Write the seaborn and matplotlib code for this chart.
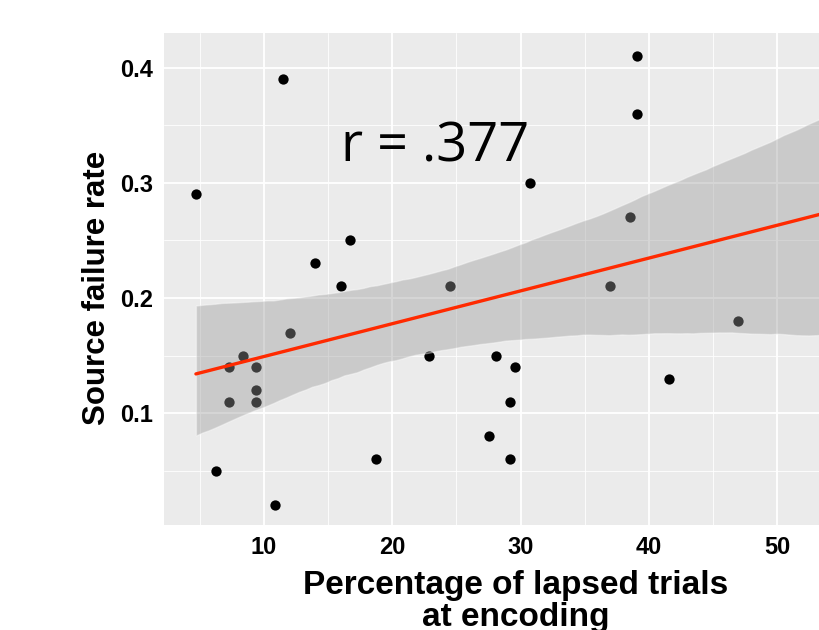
import matplotlib
matplotlib.use("Agg")
import matplotlib.pyplot as plt
from matplotlib.ticker import MultipleLocator
import pandas as pd
import seaborn as sns

# percentage of lapsed trials at encoding vs source failure rate
# (last point sits past the cropped right edge; it is what pulls the fit/band out there)
x_lapsed = [4.7, 11.5, 6.3, 10.9, 7.3, 8.4, 7.3, 9.4, 9.4, 9.4, 12.0, 14.0, 16.0, 16.7,
            18.7, 22.9, 24.5, 30.7, 28.1, 29.6, 29.2, 27.5, 29.2, 37.0, 38.5, 39.1,
            39.1, 41.6, 46.9, 54.5]
y_fail = [0.29, 0.39, 0.05, 0.02, 0.14, 0.15, 0.11, 0.14, 0.12, 0.11, 0.17, 0.23, 0.21,
          0.25, 0.06, 0.15, 0.21, 0.30, 0.15, 0.14, 0.11, 0.08, 0.06, 0.21, 0.27, 0.41,
          0.36, 0.13, 0.18, 0.36]
x_ticks = [10, 20, 30, 40, 50]
y_ticks = [0.1, 0.2, 0.3, 0.4]
y_tick_labels = ['0.1', '0.2', '0.3', '0.4']
r_label = 'r = .377'

df = pd.DataFrame({'lapsed': x_lapsed, 'fail': y_fail})

sns.set_style('darkgrid', {'axes.facecolor': '#EBEBEB', 'grid.color': 'white'})
plt.rcParams['font.family'] = ['Liberation Sans', 'DejaVu Sans']
plt.rcParams['text.color'] = 'black'

fig, ax = plt.subplots(figsize=(8.19, 6.3), dpi=100)
# panel runs past the right edge of the (cropped) figure, like the original slide
fig.subplots_adjust(left=0.2002, right=1.0586, top=0.9476, bottom=0.1667)

sns.regplot(data=df, x='lapsed', y='fail', ax=ax, truncate=True, seed=0, n_boot=2000,
            scatter_kws={'color': 'black', 's': 55, 'alpha': 1, 'linewidths': 0, 'zorder': 2},
            line_kws={'color': '#999999', 'lw': 2.4, 'zorder': 4})
band = ax.collections[-1]
band.set_facecolor('#999999')
band.set_alpha(0.4)
band.set_zorder(3)
ax.lines[-1].set_color('#FF2A00')

ax.set_xlim(2.21, 56.99)
ax.set_ylim(0.003, 0.43)
ax.set_xticks(x_ticks)
ax.set_yticks(y_ticks)
ax.set_yticklabels(y_tick_labels)
ax.xaxis.set_minor_locator(MultipleLocator(5))
ax.yaxis.set_minor_locator(MultipleLocator(0.05))
ax.grid(which='major', color='white', lw=1.3)
ax.grid(which='minor', color='white', lw=0.6)
ax.set_axisbelow(True)
for s in ax.spines.values():
    s.set_visible(False)
ax.tick_params(axis='both', which='major', length=5, width=1, color='#333333',
               labelsize=17, labelcolor='black', pad=3)
ax.tick_params(which='minor', length=0)
for lab in ax.get_xticklabels() + ax.get_yticklabels():
    lab.set_fontweight('bold')

ax.set_xlabel('Percentage of lapsed trials\nat encoding', fontsize=24, fontweight='bold',
              color='black', linespacing=1.05, labelpad=8)
ax.set_ylabel('Source failure rate', fontsize=22.5, fontweight='bold', color='black')
ax.yaxis.set_label_coords(-0.074, 0.482)

ax.text(23.3, 0.331, r_label, fontsize=39, ha='center', va='center', color='black',
        family=['Open Sans', 'DejaVu Sans'], zorder=5)

plt.savefig('out.png', dpi=100)
